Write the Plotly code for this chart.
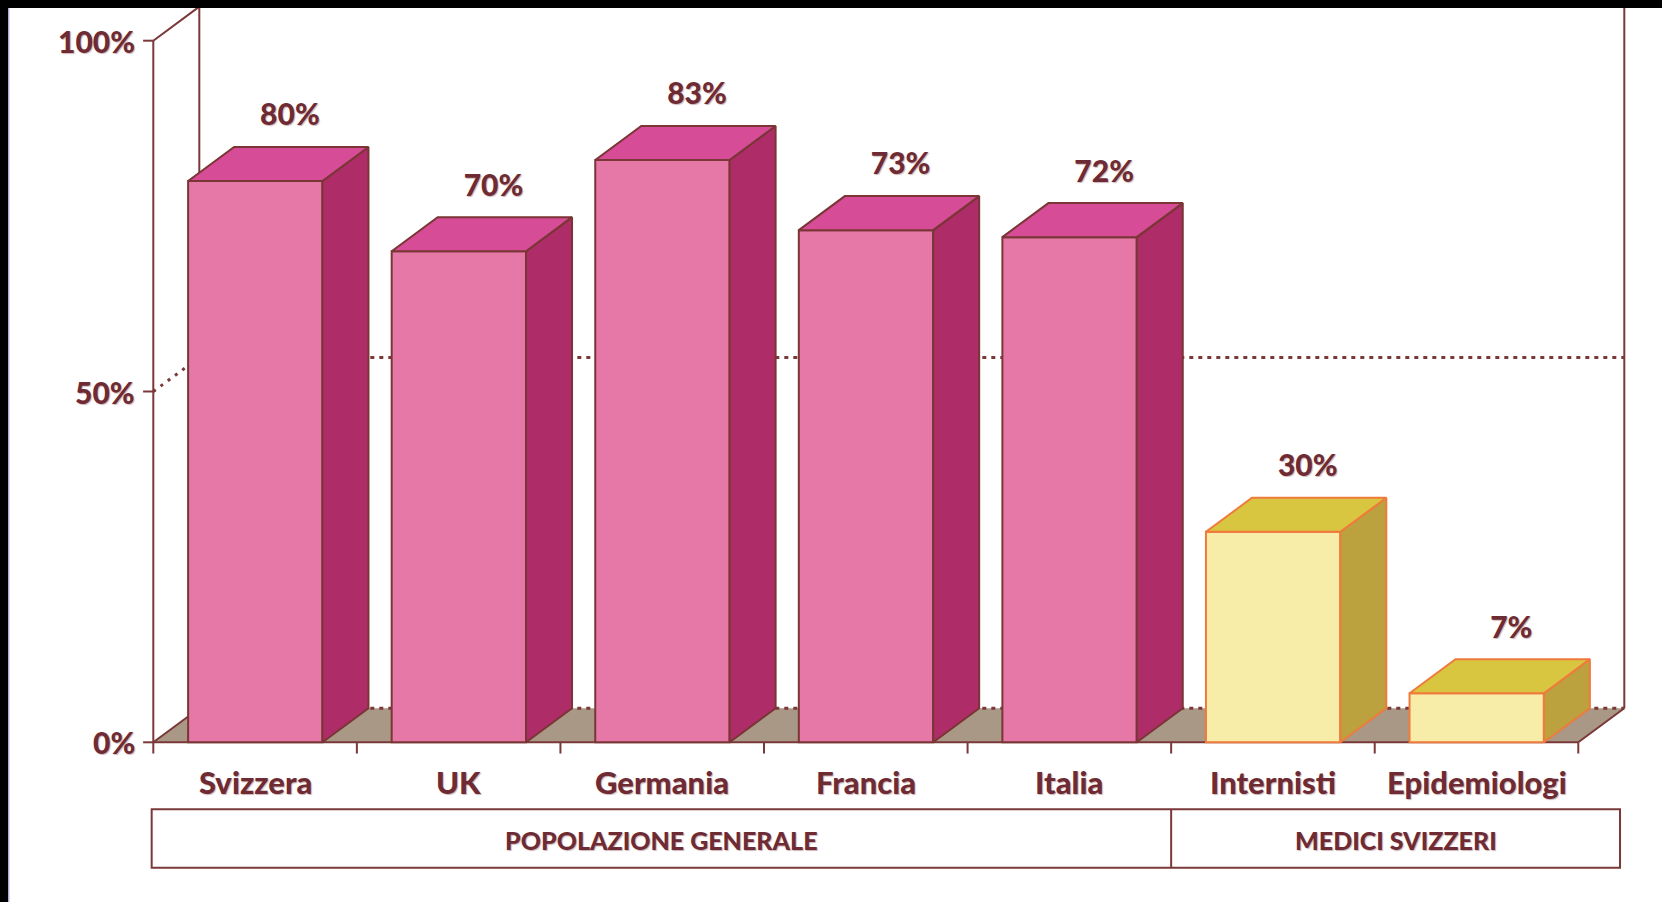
import plotly.graph_objects as go

# ---- data -------------------------------------------------------------
categories = ["Svizzera", "UK", "Germania", "Francia", "Italia", "Internisti", "Epidemiologi"]
values = [80, 70, 83, 73, 72, 30, 7]
bar_group = [0, 0, 0, 0, 0, 1, 1]
groups = ["POPOLAZIONE GENERALE", "MEDICI SVIZZERI"]
group_sizes = [5, 2]
y_ticks = [0, 50, 100]
y_tick_labels = ["0%", "50%", "100%"]

# ---- styling ----------------------------------------------------------
W, H = 1662, 902
PX_PER_X = 203.57          # pixels per category slot
PX_PER_Y = 7.016           # pixels per percentage point
X0_PX, Y0_PX = 153.3, 742.3  # pixel position of the origin

BAR_OFF, BAR_W = 0.171, 0.66  # bar position inside its slot
DX, DY = 0.226, 4.85          # depth offset of the 3D extrusion

FONT = "Lato"
TXT = "#6E2B33"
AXIS = "#7A3838"
FLOOR = "#A89885"
SHADOW = "1px 1px 1px rgba(110,43,51,0.35)"

palette = [
    dict(front="#E678A8", side="#AE2C68", top="#D64C96", edge="#7A3535"),
    dict(front="#F7ECA8", side="#BBA23E", top="#D9C640", edge="#F07A3C"),
]

x_lo = -X0_PX / PX_PER_X
x_hi = x_lo + W / PX_PER_X
y_hi = Y0_PX / PX_PER_Y
y_lo = y_hi - H / PX_PER_Y

n = len(categories)
fig = go.Figure()

# front faces of the bars
fig.add_trace(go.Bar(
    x=[i + BAR_OFF + BAR_W / 2 for i in range(n)],
    y=values,
    base=0,
    width=BAR_W,
    marker=dict(
        color=[palette[g]["front"] for g in bar_group],
        line=dict(color=[palette[g]["edge"] for g in bar_group], width=2),
    ),
    hoverinfo="skip",
    showlegend=False,
))

# side and top faces
for i, (v, g) in enumerate(zip(values, bar_group)):
    p = palette[g]
    x0 = i + BAR_OFF
    x1 = x0 + BAR_W
    fig.add_trace(go.Scatter(
        x=[x1, x1 + DX, x1 + DX, x1, x1],
        y=[0, DY, v + DY, v, 0],
        mode="lines", fill="toself", fillcolor=p["side"],
        line=dict(color=p["edge"], width=2),
        hoverinfo="skip", showlegend=False,
    ))
    fig.add_trace(go.Scatter(
        x=[x0, x1, x1 + DX, x0 + DX, x0],
        y=[v, v, v + DY, v + DY, v],
        mode="lines", fill="toself", fillcolor=p["top"],
        line=dict(color=p["edge"], width=2),
        hoverinfo="skip", showlegend=False,
    ))

# value labels above each bar
fig.add_trace(go.Scatter(
    x=[i + BAR_OFF + BAR_W / 2 + 0.17 for i in range(n)],
    y=[v + 9.0 for v in values],
    mode="text",
    text=[f"{v}%" for v in values],
    textfont=dict(family=FONT, size=30, color=TXT, weight=900, shadow=SHADOW),
    hoverinfo="skip", showlegend=False,
))

shapes = []
# floor
shapes.append(dict(
    type="path", xref="x", yref="y", layer="below",
    path=f"M 0,0 L {n},0 L {n + DX},{DY} L {DX},{DY} Z",
    fillcolor=FLOOR, line=dict(width=0),
))
for xa in (0, n):
    shapes.append(dict(type="line", xref="x", yref="y", layer="below",
                       x0=xa, y0=0, x1=xa + DX, y1=DY,
                       line=dict(color=AXIS, width=2)))
# back wall verticals
for xa in (DX, n + DX):
    shapes.append(dict(type="line", xref="x", yref="y", layer="below",
                       x0=xa, y0=DY, x1=xa, y1=y_hi + 5,
                       line=dict(color=AXIS, width=2)))
# back wall gridlines and their diagonals
for t in y_ticks:
    if t == 100:
        shapes.append(dict(type="line", xref="x", yref="y", layer="below",
                           x0=0, y0=t, x1=DX, y1=t + DY,
                           line=dict(color=AXIS, width=2)))
        continue
    shapes.append(dict(type="line", xref="x", yref="y", layer="below",
                       x0=DX, y0=t + DY, x1=n + DX, y1=t + DY,
                       line=dict(color=AXIS, width=3, dash="4px,5px")))
    if t > 0:
        shapes.append(dict(type="line", xref="x", yref="y", layer="below",
                           x0=0, y0=t, x1=DX, y1=t + DY,
                           line=dict(color=AXIS, width=3, dash="3px,6px")))
# front axes and ticks
shapes.append(dict(type="line", xref="x", yref="y", layer="below",
                   x0=0, y0=0, x1=n, y1=0, line=dict(color=AXIS, width=2)))
shapes.append(dict(type="line", xref="x", yref="y", layer="below",
                   x0=0, y0=0, x1=0, y1=100, line=dict(color=AXIS, width=2)))
for t in y_ticks:
    shapes.append(dict(type="line", xref="x", yref="y",
                       x0=-0.05, y0=t, x1=0, y1=t, line=dict(color=AXIS, width=2)))
for i in range(n + 1):
    shapes.append(dict(type="line", xref="x", yref="y",
                       x0=i, y0=0, x1=i, y1=-1.6, line=dict(color=AXIS, width=2)))

# group boxes
box_top, box_bot = -9.55, -17.87
box_left, box_right = -0.008, n + 0.205
shapes.append(dict(type="rect", xref="x", yref="y",
                   x0=box_left, y0=box_bot, x1=box_right, y1=box_top,
                   line=dict(color=AXIS, width=2), fillcolor="rgba(0,0,0,0)"))
edges = [box_left]
start = 0
for size in group_sizes[:-1]:
    start += size
    edges.append(start)
    shapes.append(dict(type="line", xref="x", yref="y",
                       x0=start, y0=box_bot, x1=start, y1=box_top,
                       line=dict(color=AXIS, width=2)))
edges.append(box_right)

# dark frame on top and left edge
shapes.append(dict(type="rect", xref="paper", yref="paper",
                   x0=0, x1=1, y0=1 - 8 / H, y1=1.01,
                   fillcolor="black", line=dict(width=0)))
shapes.append(dict(type="rect", xref="paper", yref="paper",
                   x0=-0.01, x1=8 / W, y0=-0.01, y1=1.01,
                   fillcolor="black", line=dict(width=0)))
shapes.append(dict(type="line", xref="paper", yref="paper",
                   x0=8.8 / W, x1=8.8 / W, y0=0, y1=1 - 8 / H,
                   line=dict(color="#8C86C8", width=1)))

annotations = []
for t, lab in zip(y_ticks, y_tick_labels):
    annotations.append(dict(x=-0.082, y=t, xref="x", yref="y", text=lab,
                            showarrow=False, xanchor="right", yanchor="middle",
                            font=dict(family=FONT, size=30, color=TXT, weight=900, shadow=SHADOW)))
for i, c in enumerate(categories):
    annotations.append(dict(x=i + 0.5, y=-5.6, xref="x", yref="y", text=c,
                            showarrow=False, xanchor="center", yanchor="middle",
                            font=dict(family=FONT, size=31, color=TXT, weight=900, shadow=SHADOW)))
for k, gname in enumerate(groups):
    annotations.append(dict(x=(edges[k] + edges[k + 1]) / 2, y=-13.9, xref="x", yref="y",
                            text=gname, showarrow=False, xanchor="center", yanchor="middle",
                            font=dict(family=FONT, size=25, color=TXT, weight=900, shadow=SHADOW)))

fig.update_layout(
    width=W, height=H, autosize=False,
    margin=dict(l=0, r=0, t=0, b=0, pad=0),
    paper_bgcolor="white", plot_bgcolor="white",
    xaxis=dict(range=[x_lo, x_hi], visible=False, fixedrange=True),
    yaxis=dict(range=[y_lo, y_hi], visible=False, fixedrange=True),
    shapes=shapes, annotations=annotations,
    showlegend=False,
)

fig.write_html("out.html", config={"displayModeBar": False})
